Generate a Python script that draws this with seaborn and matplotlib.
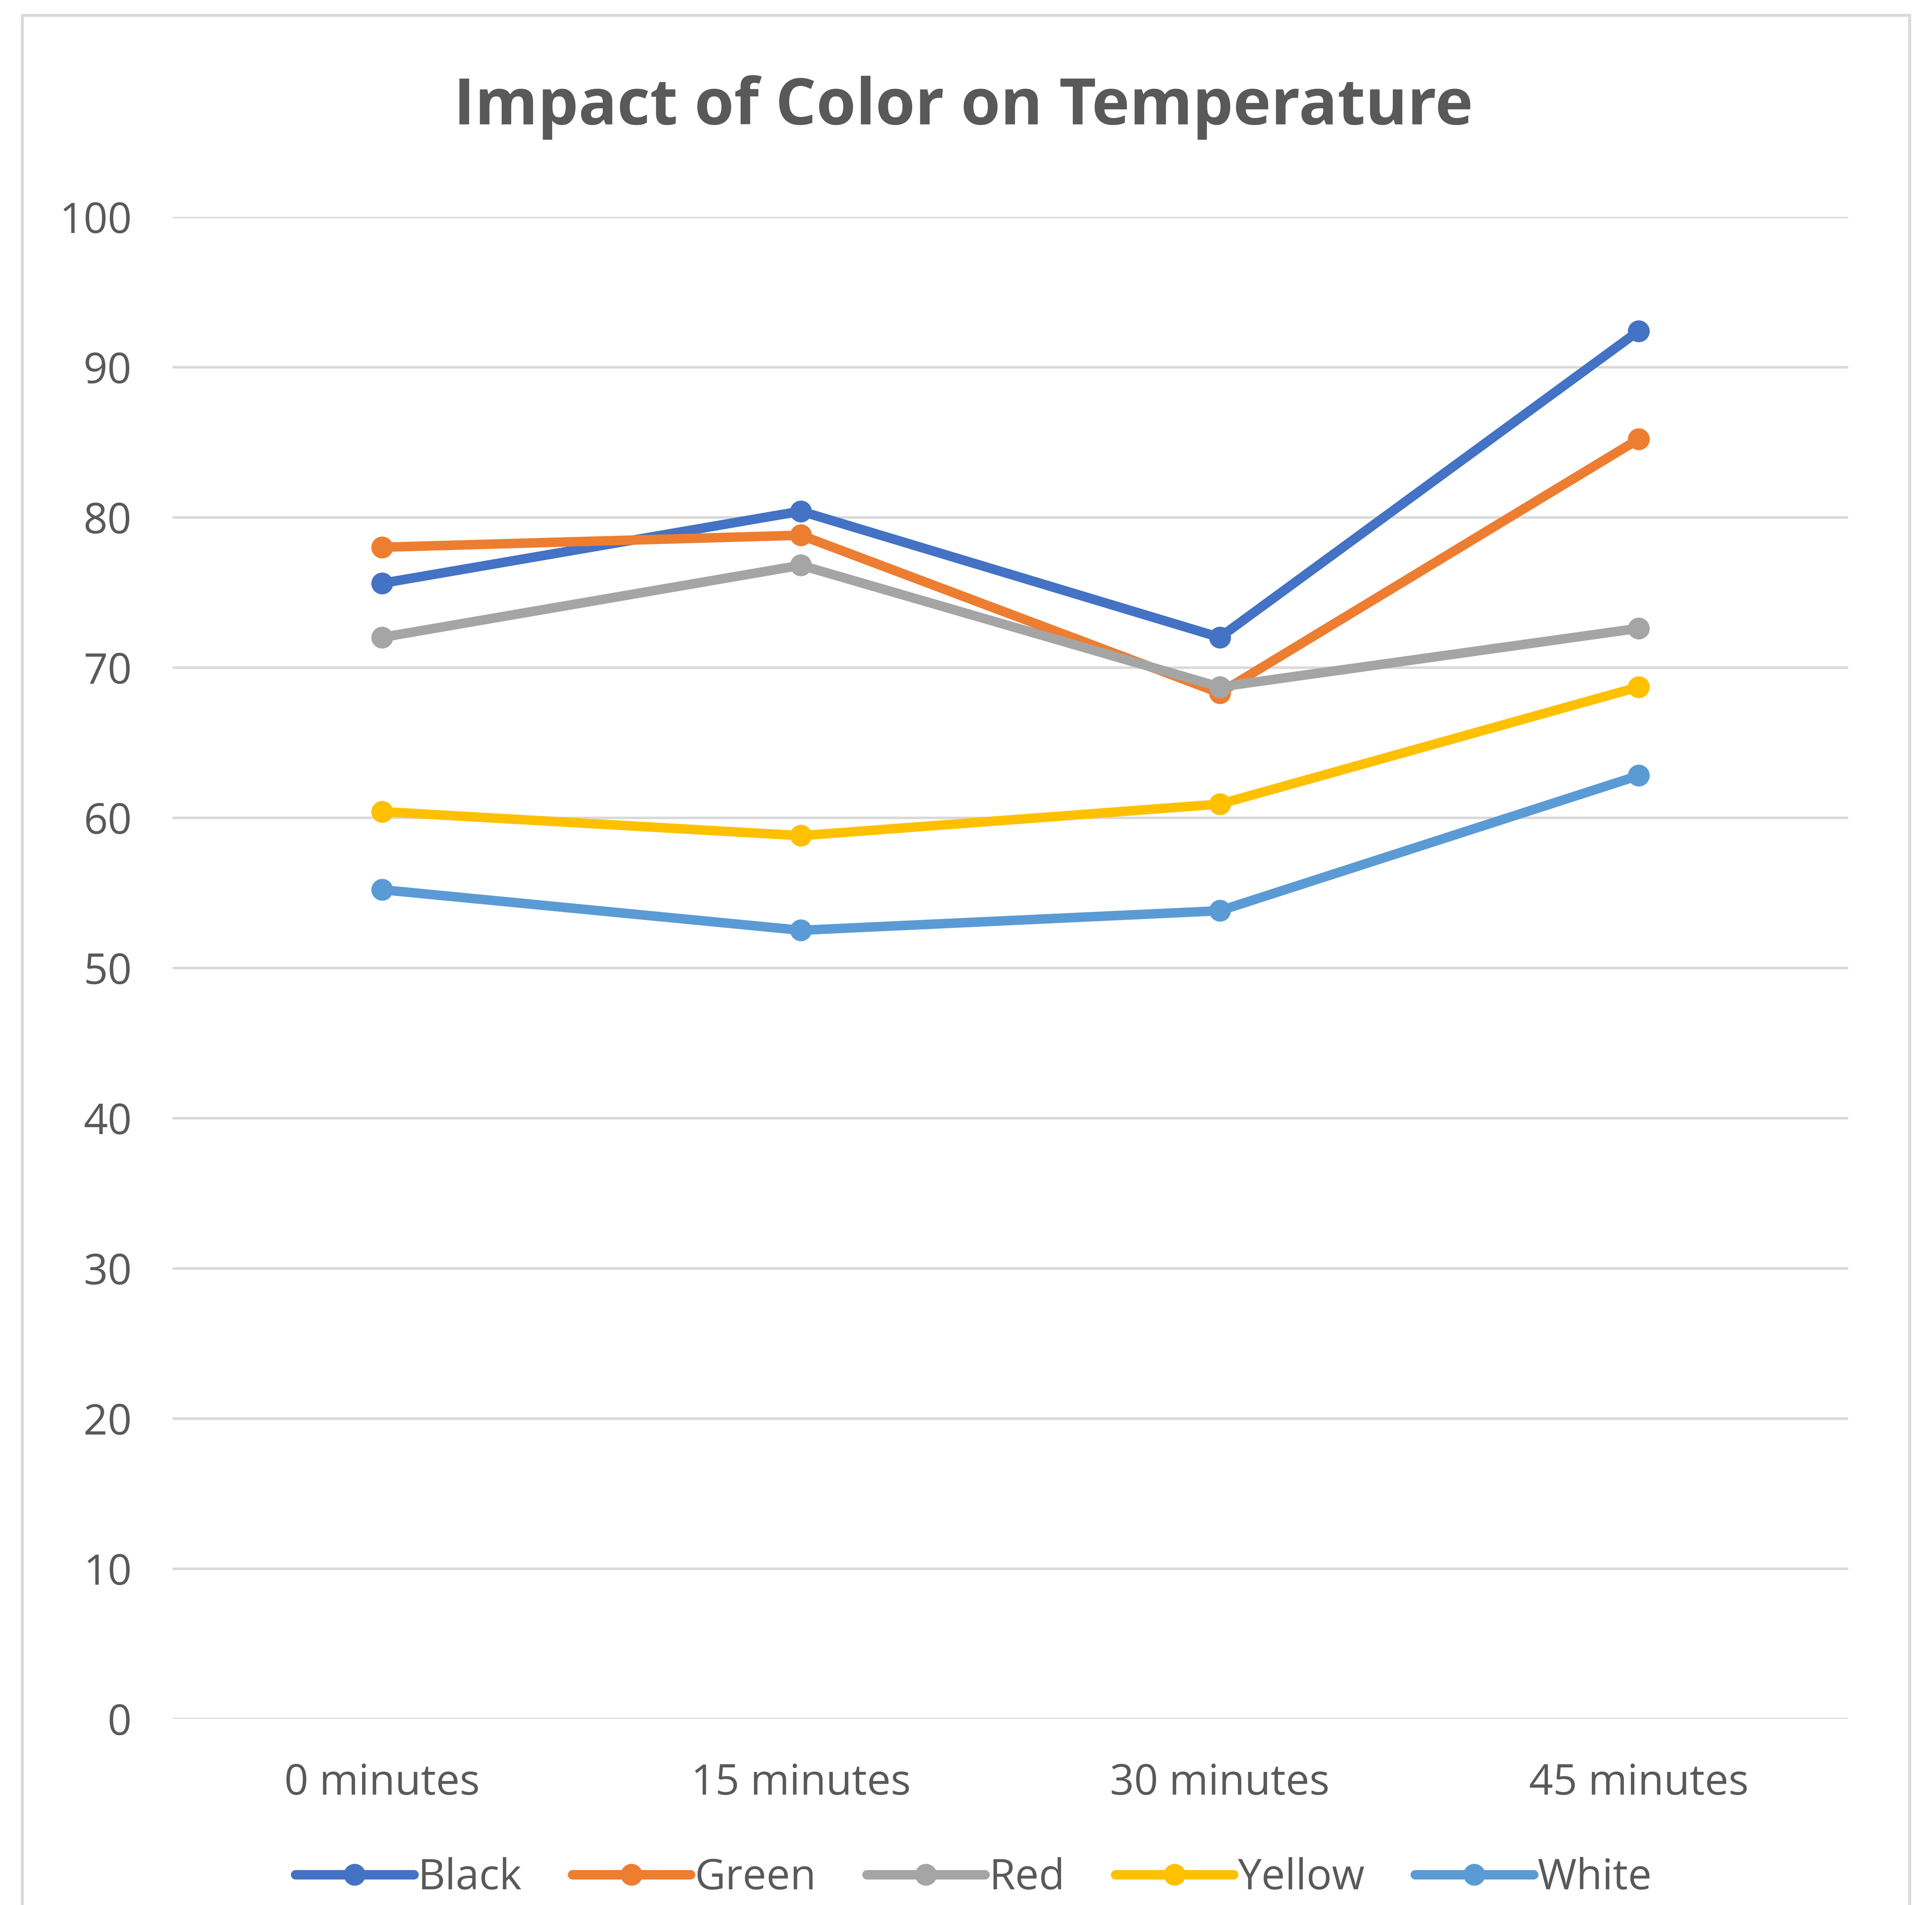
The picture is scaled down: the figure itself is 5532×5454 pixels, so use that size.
import matplotlib
matplotlib.use("Agg")
import matplotlib.pyplot as plt
import seaborn as sns
import pandas as pd
from matplotlib.patches import Rectangle

# 데이터
times = ["0 minutes", "15 minutes", "30 minutes", "45 minutes"]
black = [75.6, 80.4, 72.0, 92.4]
green = [78.0, 78.8, 68.3, 85.2]
red = [72.0, 76.8, 68.7, 72.6]
yellow = [60.4, 58.8, 60.9, 68.7]
white = [55.2, 52.5, 53.8, 62.8]

series = {"Black": black, "Green": green, "Red": red, "Yellow": yellow, "White": white}
colors = {"Black": "#4472C4", "Green": "#ED7D31", "Red": "#A5A5A5",
          "Yellow": "#FFC000", "White": "#5B9BD5"}

rows = []
for name, vals in series.items():
    for t, v in zip(times, vals):
        rows.append({"time": t, "temp": v, "color": name})
df = pd.DataFrame(rows)

sns.set_theme(style="white")
plt.rcParams['font.family'] = ['Open Sans', 'DejaVu Sans']
txt = "#595959"

fig = plt.figure(figsize=(5532 / 300, 5454 / 300), dpi=300)
ax = fig.add_axes([0.0893, 0.0977, 0.8673, 0.7885])

sns.lineplot(data=df, x="time", y="temp", hue="color", palette=colors,
             marker="o", markersize=15, markeredgewidth=0, linewidth=6.5,
             sort=False, ax=ax, legend=False)

ax.set_xlim(-0.5, 3.5)
ax.set_ylim(0, 100)
ax.set_yticks(range(0, 101, 10))
ax.yaxis.grid(True, color="#D9D9D9", linewidth=1.7)
ax.set_axisbelow(True)
for s in ax.spines.values():
    s.set_visible(False)
ax.set_xlabel("")
ax.set_ylabel("")
ax.tick_params(axis="both", length=0, labelsize=29, labelcolor=txt)
ax.tick_params(axis="y", pad=28)
ax.tick_params(axis="x", pad=30)

fig.text(0.4987, 0.9437, "Impact of Color on Temperature", ha="center", va="center",
         fontsize=44, fontweight="bold", color=txt)

# 범례
handles = [plt.Line2D([], [], color=colors[n], lw=6.5, marker="o", markersize=15,
                      markeredgewidth=0) for n in series]
leg = fig.legend(handles, list(series.keys()), loc="center", bbox_to_anchor=(0.504, 0.014),
                 ncol=5, frameon=False, fontsize=29, handlelength=2.8, handletextpad=0.1,
                 columnspacing=1.2)
for t in leg.get_texts():
    t.set_color(txt)

# 차트 테두리
fig.patches.append(Rectangle((0.0115, -0.01), 0.977, 1.002, transform=fig.transFigure,
                             fill=False, edgecolor="#D9D9D9", linewidth=2))

fig.savefig("out.png", dpi=300)
